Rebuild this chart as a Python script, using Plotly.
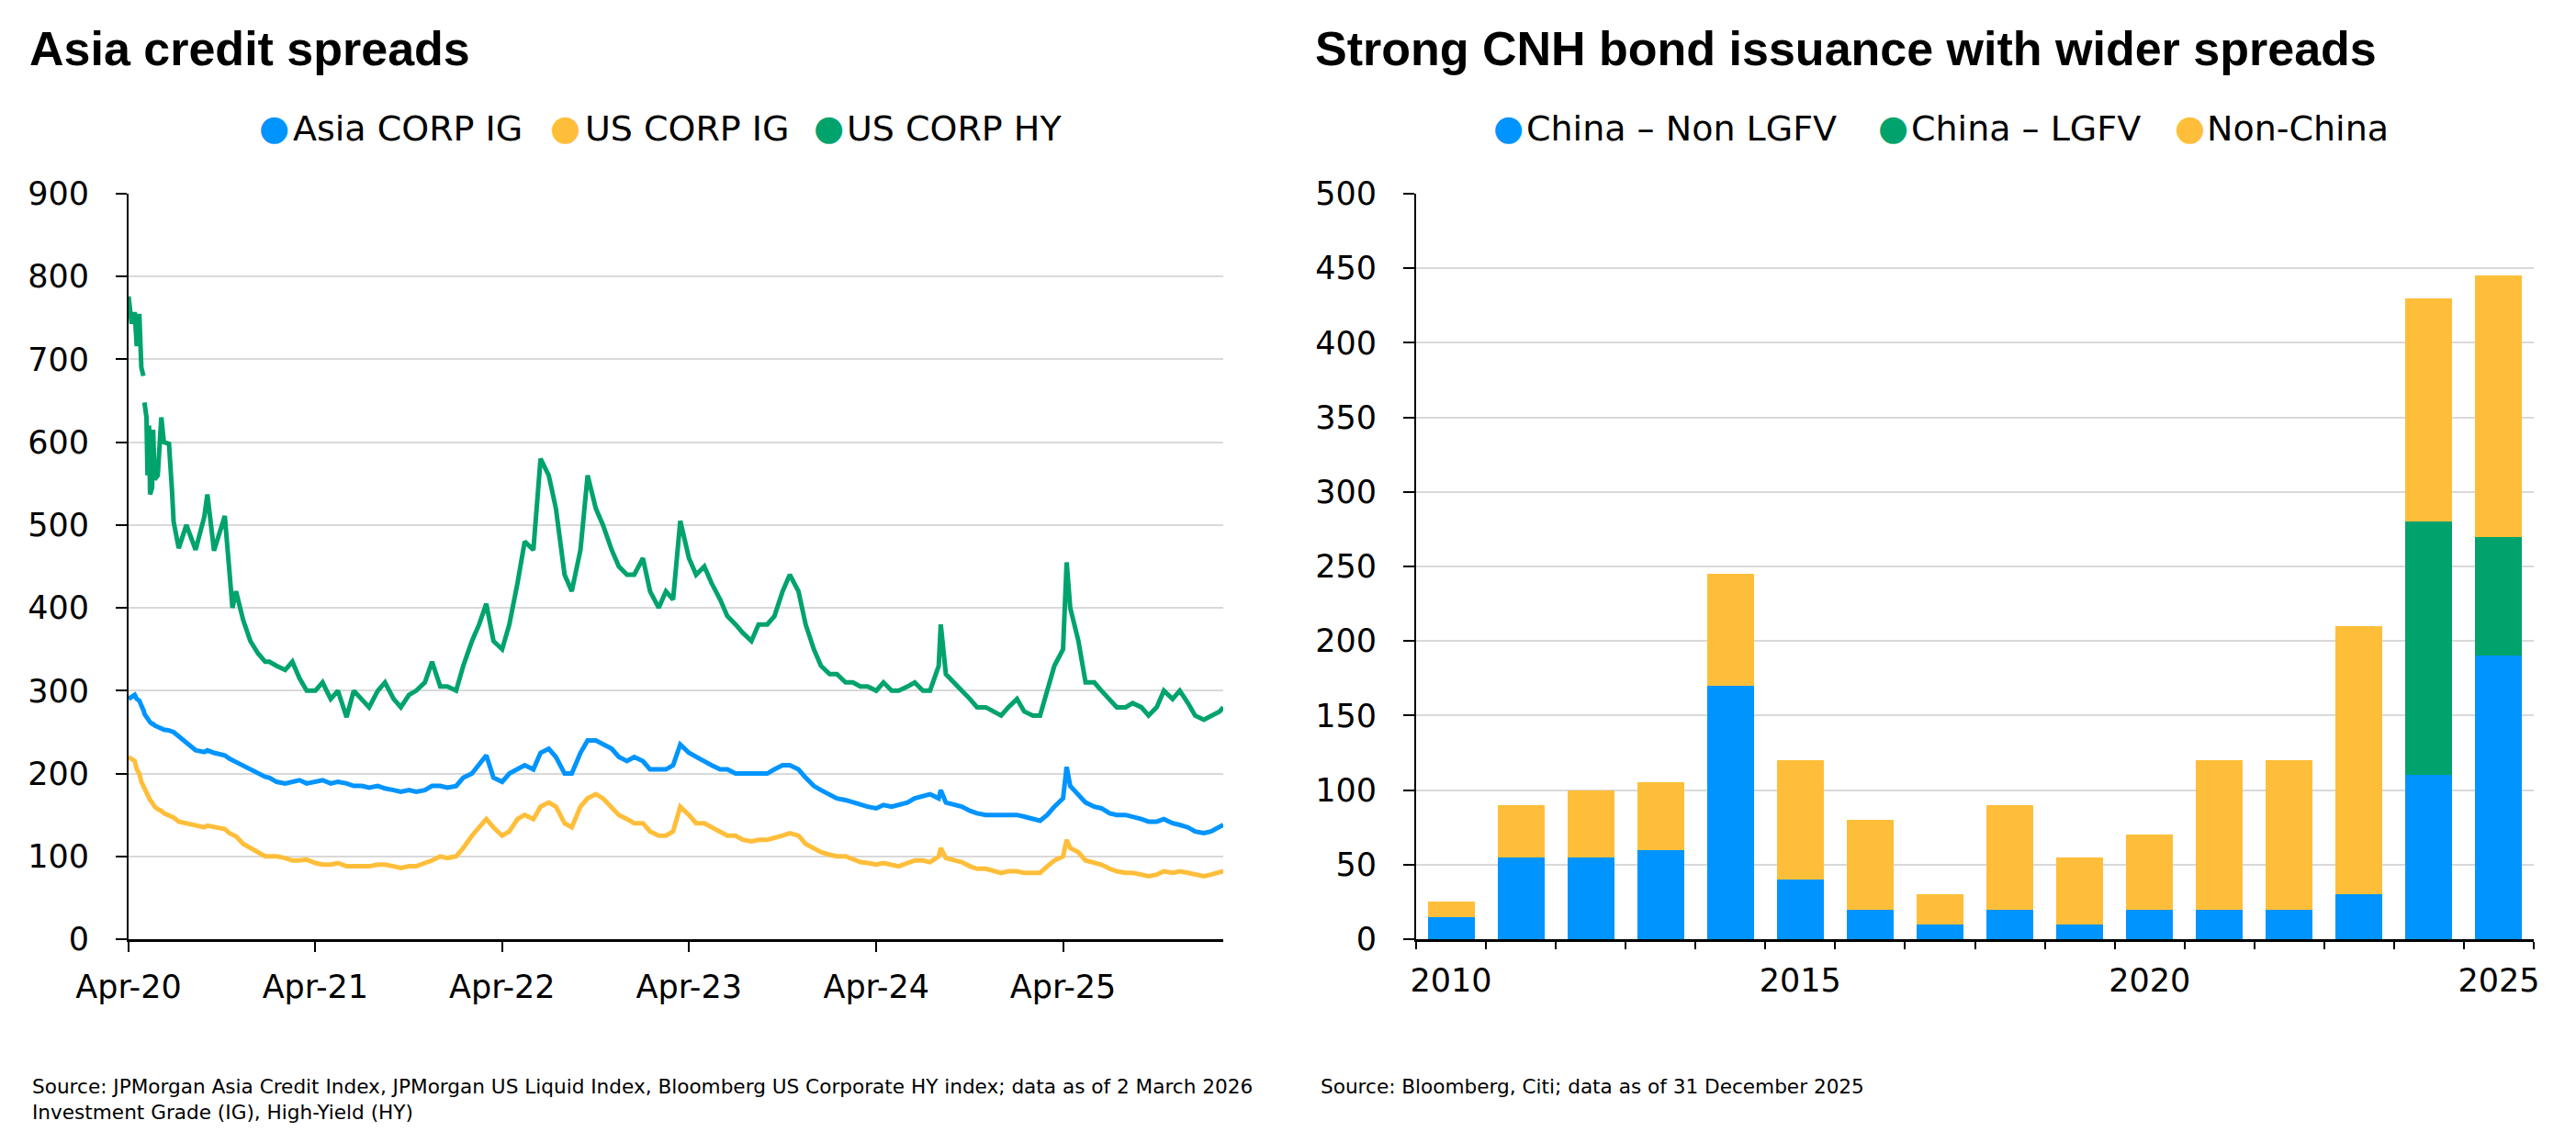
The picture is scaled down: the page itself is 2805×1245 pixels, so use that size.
import plotly.graph_objects as go

# ---------------- Left chart data (bp) ----------------
dates = [
    "2020-04-01", "2020-04-07", "2020-04-13", "2020-04-17", "2020-04-22", "2020-04-26", "2020-04-30",
    "2020-05-01", "2020-05-02", "2020-05-06", "2020-05-08", "2020-05-11", "2020-05-13", "2020-05-17",
    "2020-05-19", "2020-05-22", "2020-05-28", "2020-06-04", "2020-06-09", "2020-06-19", "2020-06-25",
    "2020-06-28", "2020-07-08", "2020-07-23", "2020-08-10", "2020-08-27", "2020-09-02", "2020-09-15",
    "2020-10-06", "2020-10-15", "2020-10-21", "2020-10-28", "2020-11-11", "2020-11-25", "2020-12-10",
    "2020-12-24",
    "2021-01-01", "2021-01-15", "2021-02-01", "2021-02-15", "2021-03-01", "2021-03-15", "2021-04-01",
    "2021-04-15", "2021-05-01", "2021-05-15", "2021-06-01", "2021-06-15", "2021-07-01", "2021-07-15",
    "2021-08-01", "2021-08-15", "2021-09-01", "2021-09-15", "2021-10-01", "2021-10-15", "2021-11-01",
    "2021-11-15", "2021-12-01", "2021-12-15",
    "2022-01-01", "2022-01-15", "2022-02-01", "2022-02-15", "2022-03-01", "2022-03-15", "2022-04-01",
    "2022-04-15", "2022-05-01", "2022-05-15", "2022-06-01", "2022-06-15", "2022-07-01", "2022-07-15",
    "2022-08-01", "2022-08-15", "2022-09-01", "2022-09-15", "2022-10-01", "2022-10-15", "2022-11-01",
    "2022-11-15", "2022-12-01", "2022-12-15",
    "2023-01-01", "2023-01-15", "2023-02-01", "2023-02-15", "2023-03-01", "2023-03-15", "2023-04-01",
    "2023-04-15", "2023-05-01", "2023-05-15", "2023-06-01", "2023-06-15", "2023-07-01", "2023-07-15",
    "2023-08-01", "2023-08-15", "2023-09-01", "2023-09-15", "2023-10-01", "2023-10-15", "2023-11-01",
    "2023-11-15", "2023-12-01", "2023-12-15",
    "2024-01-01", "2024-01-15", "2024-02-01", "2024-02-15", "2024-03-01", "2024-03-15", "2024-04-01",
    "2024-04-15", "2024-05-01", "2024-05-15", "2024-06-01", "2024-06-15", "2024-07-01", "2024-07-15",
    "2024-08-01", "2024-08-05", "2024-08-15", "2024-09-01", "2024-09-15", "2024-10-01", "2024-10-15",
    "2024-11-01", "2024-11-15", "2024-12-01", "2024-12-15",
    "2025-01-01", "2025-01-15", "2025-02-01", "2025-02-15", "2025-03-01", "2025-03-15", "2025-04-01",
    "2025-04-08", "2025-04-15", "2025-05-01", "2025-05-15", "2025-06-01", "2025-06-15", "2025-07-01",
    "2025-07-15", "2025-08-01", "2025-08-15", "2025-09-01", "2025-09-15", "2025-10-01", "2025-10-15",
    "2025-11-01", "2025-11-15", "2025-12-01", "2025-12-15",
    "2026-01-01", "2026-01-15", "2026-02-01", "2026-02-08",
]

us_corp_hy = [
    776, 743, 757, 716, 755, 690, 680,
    None, 648, 630, 560, 620, 537, 545,
    615, 555, 560, 630, 600, 598, 540,
    504, 472, 500, 470, 510, 537, 469,
    511, 440, 400, 420, 385, 360, 345,
    335,
    335, 330, 325, 335, 315, 300, 300,
    310, 290, 300, 268, 300, 290, 280,
    300, 310, 290, 280, 295, 300, 310,
    335, 305, 305,
    300, 330, 360, 380, 405, 360, 350,
    380, 430, 480, 470, 580, 560, 520,
    440, 420, 470, 560, 520, 500, 470,
    450, 440, 440,
    460, 420, 400, 420, 410, 505, 460,
    440, 450, 430, 410, 390, 380, 370,
    360, 380, 380, 390, 420, 440, 420,
    380, 350, 330,
    320, 320, 310, 310, 305, 305, 300,
    310, 300, 300, 305, 310, 300, 300,
    330, 380, 320, 310, 300, 290, 280,
    280, 275, 270, 280,
    290, 275, 270, 270, 300, 330, 350,
    455, 400, 360, 310, 310, 300, 290,
    280, 280, 285, 280, 270, 280, 300,
    290, 300, 285, 270,
    265, 270, 275, 280,
]

asia_corp_ig = [
    290, 293, 295, 290, 288, 282, 278,
    275, 272, 268, 266, 264, 262, 260,
    260, 258, 256, 255, 253, 252, 250,
    250, 245, 238, 228, 226, 228, 225,
    222, 218, 216, 215, 210, 205, 200,
    196,
    195, 190, 188, 190, 192, 188, 190,
    192, 188, 190, 188, 185, 185, 183,
    185, 182, 180, 178, 180, 178, 180,
    185, 185, 183,
    185, 195, 200, 210, 222, 195, 190,
    200, 205, 210, 205, 225, 230, 220,
    200, 200, 225, 240, 240, 235, 230,
    220, 215, 220,
    215, 205, 205, 205, 210, 235, 225,
    220, 215, 210, 205, 205, 200, 200,
    200, 200, 200, 205, 210, 210, 205,
    195, 185, 180,
    175, 170, 168, 165, 162, 160, 158,
    162, 160, 162, 165, 170, 172, 175,
    170, 180, 165, 162, 160, 155, 152,
    150, 150, 150, 150,
    150, 148, 145, 143, 150, 160, 170,
    208, 185, 175, 165, 160, 158, 152,
    150, 150, 148, 145, 142, 142, 145,
    140, 138, 135, 130,
    128, 130, 135, 138,
]

us_corp_ig = [
    220, 218, 215, 205, 200, 190, 185,
    182, 180, 176, 173, 170, 168, 165,
    163, 160, 157, 155, 152, 150, 148,
    147, 142, 140, 137, 135, 137, 136,
    133, 128, 126, 124, 115, 110, 104,
    100,
    100, 100, 98, 95, 95, 96, 92,
    90, 90, 92, 88, 88, 87, 88,
    90, 90, 88, 86, 88, 88, 92,
    95, 100, 98,
    100, 110, 125, 135, 145, 135, 125,
    130, 145, 150, 145, 160, 165, 160,
    140, 135, 160, 170, 175, 170, 160,
    150, 145, 140,
    140, 130, 125, 125, 130, 160, 150,
    140, 140, 135, 130, 125, 125, 120,
    118, 120, 120, 122, 125, 128, 125,
    115, 110, 105,
    102, 100, 100, 97, 93, 92, 90,
    92, 90, 88, 92, 95, 95, 93,
    100, 110, 98, 95, 93, 88, 85,
    85, 82, 80, 82,
    82, 80, 80, 80, 88, 95, 100,
    120, 110, 105, 95, 92, 90, 85,
    82, 80, 80, 78, 76, 78, 82,
    80, 82, 80, 78,
    76, 78, 80, 82,
]

# ---------------- Right chart data (CNH bn) ----------------
years = [2010, 2011, 2012, 2013, 2014, 2015, 2016, 2017, 2018, 2019, 2020, 2021, 2022, 2023, 2024, 2025]
china_non_lgfv = [15, 55, 55, 60, 170, 40, 20, 10, 20, 10, 20, 20, 20, 30, 110, 190]
china_lgfv = [0, 0, 0, 0, 0, 0, 0, 0, 0, 0, 0, 0, 0, 0, 170, 80]
non_china = [10, 35, 45, 45, 75, 80, 60, 20, 70, 45, 50, 100, 100, 180, 150, 175]

BLUE = "#0094FF"
GREEN = "#00A36C"
YELLOW = "#FFBE3A"
FONT = "DejaVu Sans"
TITLE_FONT = "Liberation Sans"

W, H = 2805, 1245


def px(x):
    return x / W


def py(y):
    return 1 - y / H


fig = go.Figure()

fig.add_trace(go.Scatter(x=dates, y=us_corp_ig, mode="lines", name="US CORP IG",
                         line=dict(color=YELLOW, width=5), showlegend=False,
                         xaxis="x", yaxis="y"))
fig.add_trace(go.Scatter(x=dates, y=asia_corp_ig, mode="lines", name="Asia CORP IG",
                         line=dict(color=BLUE, width=5), showlegend=False,
                         xaxis="x", yaxis="y"))
fig.add_trace(go.Scatter(x=dates, y=us_corp_hy, mode="lines", name="US CORP HY",
                         line=dict(color=GREEN, width=5), showlegend=False,
                         connectgaps=False, xaxis="x", yaxis="y"))

fig.add_trace(go.Bar(x=years, y=china_non_lgfv, name="China – Non LGFV", marker_color=BLUE,
                     marker_line_width=0, showlegend=False, xaxis="x2", yaxis="y2"))
fig.add_trace(go.Bar(x=years, y=china_lgfv, name="China – LGFV", marker_color=GREEN,
                     marker_line_width=0, showlegend=False, xaxis="x2", yaxis="y2"))
fig.add_trace(go.Bar(x=years, y=non_china, name="Non-China", marker_color=YELLOW,
                     marker_line_width=0, showlegend=False, xaxis="x2", yaxis="y2"))

ydom = [py(1023), py(211)]
tickfont = dict(family=FONT, size=35, color="black")

fig.update_layout(
    width=W, height=H,
    margin=dict(l=0, r=0, t=0, b=0, autoexpand=False),
    paper_bgcolor="white", plot_bgcolor="white",
    font=dict(family=FONT, color="black"),
    barmode="stack", bargap=0.33,
    showlegend=False,
    xaxis=dict(domain=[px(140), px(1332)], anchor="y", type="date", automargin=False,
               range=["2020-04-01", "2026-02-08"],
               tick0="2020-04-01", dtick="M12", tickformat="%b-%y",
               showline=True, linecolor="black", linewidth=3,
               ticks="outside", ticklen=11, tickwidth=2, tickcolor="black",
               showgrid=False, zeroline=False, tickfont=tickfont,
               ticklabelstandoff=8),
    yaxis=dict(domain=ydom, anchor="x", range=[0, 900], dtick=100, automargin=False,
               showline=True, linecolor="black", linewidth=2,
               ticks="outside", ticklen=12, tickwidth=2, tickcolor="black",
               showgrid=True, gridcolor="#D9D9D9", gridwidth=2,
               zeroline=False, tickfont=tickfont, ticklabelstandoff=22),
    xaxis2=dict(domain=[px(1542), px(2759)], anchor="y2", automargin=False,
                range=[2009.5, 2025.5], tickmode="array",
                tickvals=[2010, 2015, 2020, 2025], ticks="",
                minor=dict(ticks="outside", ticklen=8, tickwidth=2, tickcolor="black",
                           tick0=2009.5, dtick=1, showgrid=False),
                showline=True, linecolor="black", linewidth=3,
                showgrid=False, zeroline=False, tickfont=tickfont,
                ticklabelstandoff=12),
    yaxis2=dict(domain=ydom, anchor="x2", range=[0, 500], dtick=50, automargin=False,
                showline=True, linecolor="black", linewidth=2,
                ticks="outside", ticklen=12, tickwidth=2, tickcolor="black",
                showgrid=True, gridcolor="#D9D9D9", gridwidth=2,
                zeroline=False, tickfont=tickfont, ticklabelstandoff=22),
)

annotations = []


def add_text(text, x, y, size, xanchor="left", yanchor="middle", color="black",
             bold=False, family=FONT):
    annotations.append(dict(
        text=f"<b>{text}</b>" if bold else text,
        x=px(x), y=py(y), xref="paper", yref="paper",
        xanchor=xanchor, yanchor=yanchor, showarrow=False,
        font=dict(family=family, size=size, color=color),
    ))


# titles
add_text("Asia credit spreads", 30, 53, 52, bold=True, family=TITLE_FONT)
add_text("Strong CNH bond issuance with wider spreads", 1430, 53, 52, bold=True, family=TITLE_FONT)

# legends
left_items = [("Asia CORP IG", BLUE, 298, 317), ("US CORP IG", YELLOW, 615, 635), ("US CORP HY", GREEN, 902, 920)]
right_items = [("China – Non LGFV", BLUE, 1643, 1660), ("China – LGFV", GREEN, 2061, 2079), ("Non-China", YELLOW, 2384, 2401)]
for name, col, mx, tx in left_items + right_items:
    add_text("●", mx, 139, 38, xanchor="center", color=col)
    add_text(name, tx, 140, 38)

# sources
add_text("Source: JPMorgan Asia Credit Index, JPMorgan US Liquid Index, Bloomberg US Corporate HY index; data as of 2 March 2026",
         33, 1183, 21.6)
add_text("Investment Grade (IG), High-Yield (HY)", 33, 1211, 21.6)
add_text("Source: Bloomberg, Citi; data as of 31 December 2025", 1436, 1183, 21.6)

fig.update_layout(annotations=annotations)

fig.write_html("out.html", config={"displayModeBar": False},
               post_script="document.body.style.margin='0';document.body.style.overflow='hidden';")
